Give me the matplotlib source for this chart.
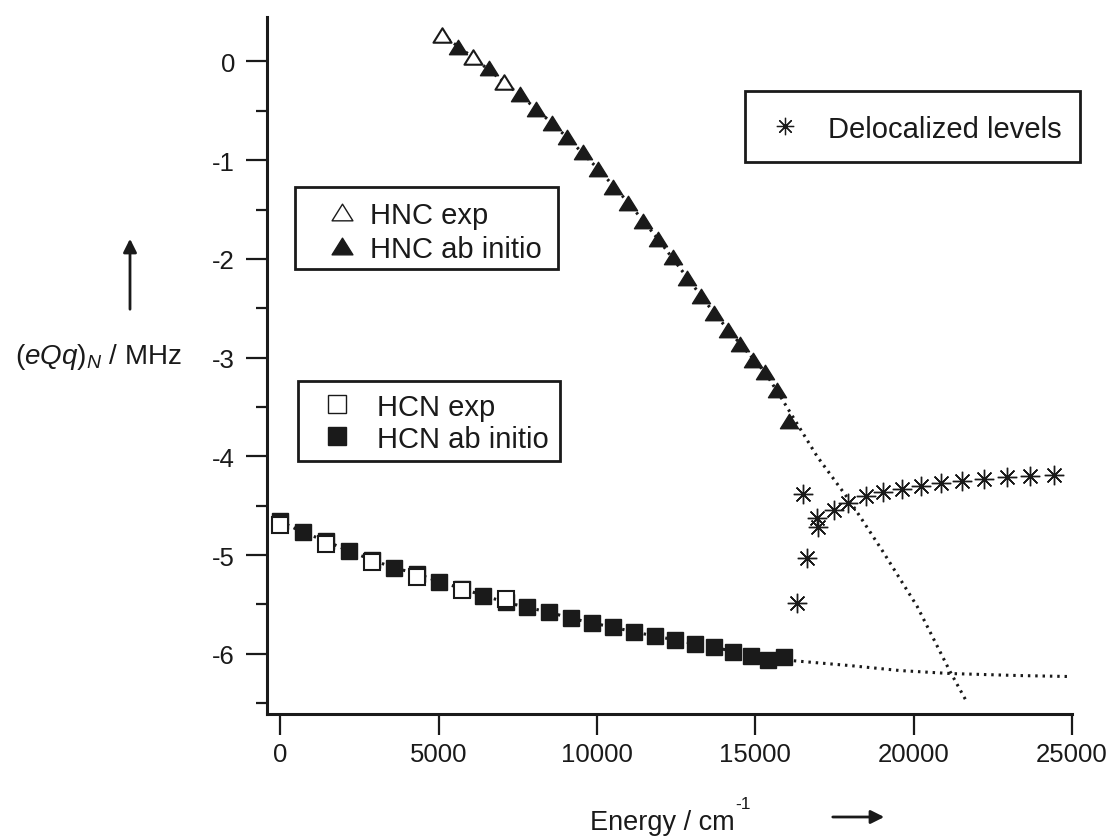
import numpy as np
import matplotlib
matplotlib.use('Agg')
import matplotlib.pyplot as plt
from matplotlib.lines import Line2D
from matplotlib.path import Path
from matplotlib.patches import Rectangle, FancyArrowPatch

plt.rcParams['font.family'] = ['Liberation Sans', 'DejaVu Sans']
plt.rcParams['axes.unicode_minus'] = False
plt.rcParams['mathtext.fontset'] = 'custom'
plt.rcParams['mathtext.rm'] = 'Liberation Sans'
plt.rcParams['mathtext.it'] = 'Liberation Sans:italic'

# HNC
hnc_exp_x = [5110, 6090, 7070]
hnc_exp_y = [0.27, 0.04, -0.21]
hnc_ab_x = [5620, 6600, 7580, 8080, 8590, 9060, 9570, 10040, 10510, 10990, 11460,
            11930, 12410, 12850, 13290, 13700, 14140, 14520, 14930, 15310, 15690, 16070]
hnc_ab_y = [0.15, -0.07, -0.33, -0.48, -0.62, -0.77, -0.92, -1.09, -1.27, -1.43, -1.62,
            -1.80, -1.98, -2.19, -2.38, -2.55, -2.72, -2.86, -3.02, -3.15, -3.33, -3.64]
# dotted fit curve for HNC
hnc_fit_x = [5110, 6090, 7070, 8080, 9060, 10040, 10990, 11930, 12850, 13700, 14520,
             15310, 15880, 16320, 16950, 18000, 19040, 20110, 21150, 21630]
hnc_fit_y = [0.27, 0.04, -0.21, -0.48, -0.77, -1.09, -1.43, -1.80, -2.19, -2.55, -2.86,
             -3.15, -3.44, -3.67, -4.00, -4.46, -4.97, -5.52, -6.18, -6.46]

# HCN
hcn_exp_x = [0, 1452, 2904, 4325, 5745, 7134]
hcn_exp_y = [-4.70, -4.89, -5.07, -5.22, -5.35, -5.45]
hcn_ab_x = [0, 726, 1452, 2178, 2904, 3600, 4325, 5020, 5745, 6410, 7134, 7800, 8490,
            9190, 9850, 10510, 11170, 11840, 12470, 13100, 13700, 14300, 14870, 15400, 15910]
hcn_ab_y = [-4.66, -4.77, -4.86, -4.96, -5.05, -5.13, -5.19, -5.27, -5.34, -5.41, -5.48,
            -5.53, -5.58, -5.64, -5.69, -5.73, -5.78, -5.82, -5.86, -5.90, -5.93, -5.98,
            -6.02, -6.06, -6.03]
hcn_ext_x = [16190, 18000, 19570, 21150, 23260, 24840]
hcn_ext_y = [-6.07, -6.12, -6.17, -6.20, -6.22, -6.23]

# delocalized levels
deloc_x = [16320, 16510, 16640, 16950, 16990, 17470, 17940, 18480, 19040, 19640,
           20240, 20870, 21530, 22230, 22950, 23680, 24440]
deloc_y = [-5.49, -4.38, -5.03, -4.62, -4.72, -4.54, -4.47, -4.40, -4.36, -4.33,
           -4.30, -4.27, -4.25, -4.23, -4.21, -4.20, -4.19]

W, H = 1114, 837
def px(x, y):
    return x / W, 1 - y / H

# slightly flattened triangle, like the original Igor marker
tri = Path([(-1, -0.8), (1, -0.8), (0, 0.8), (-1, -0.8)], closed=True)
star = (8, 2, 0)

fig = plt.figure(figsize=(W / 100, H / 100), dpi=100)
ax = fig.add_axes([267 / W, 1 - 715 / H, (1072 - 267) / W, (715 - 18) / H])

k = '#1a1a1a'
dot = (0, (0.8, 1.6))
ax.plot(hnc_fit_x, hnc_fit_y, color=k, lw=2.2, ls=dot, zorder=1)
ax.plot(hcn_ab_x + hcn_ext_x, hcn_ab_y + hcn_ext_y, color=k, lw=2.2, ls=dot, zorder=1)

ax.plot(hcn_ab_x, hcn_ab_y, 's', ms=12, mfc=k, mec=k, mew=1, ls='none', zorder=2)
ax.plot(hcn_exp_x, hcn_exp_y, 's', ms=12, mfc='white', mec=k, mew=1.5, ls='none', zorder=3)
ax.plot(hnc_ab_x, hnc_ab_y, marker=tri, ms=13, mfc=k, mec=k, mew=1, ls='none', zorder=2)
ax.plot(hnc_exp_x, hnc_exp_y, marker=tri, ms=13, mfc='white', mec=k, mew=1.5, ls='none',
        zorder=3)
ax.plot(deloc_x, deloc_y, marker=star, ms=14, mec=k, mew=1.0, ls='none', zorder=3)

ax.set_xlim(-420, 25000)
ax.set_ylim(-6.61, 0.45)
ax.set_xticks([0, 5000, 10000, 15000, 20000, 25000])
ax.set_yticks([0, -1, -2, -3, -4, -5, -6])
ax.set_yticks(np.arange(-6.5, 0.1, 0.5), minor=True)
for s in ['top', 'right']:
    ax.spines[s].set_visible(False)
for s in ['left', 'bottom']:
    ax.spines[s].set_linewidth(2.2)
    ax.spines[s].set_color(k)
ax.tick_params(axis='both', which='major', direction='out', length=15, width=1.6,
               labelsize=18.5, colors=k)
ax.tick_params(axis='y', which='minor', direction='out', length=8, width=1.6, colors=k)
ax.tick_params(axis='x', pad=5)
ax.tick_params(axis='y', pad=8)

# boxed keys
def key_box(x0, y0, x1, y1, mx, tx, rows):
    fig.add_artist(Rectangle(px(x0, y1), (x1 - x0) / W, (y1 - y0) / H,
                             transform=fig.transFigure, fill=False, ec=k, lw=2))
    for y, style, label in rows:
        fig.add_artist(Line2D([px(mx, y)[0]], [px(mx, y)[1]], transform=fig.transFigure,
                              ls='none', **style))
        fig.text(*px(tx, y), label, fontsize=21, ha='left', va='center_baseline', color=k)

key_box(745, 92, 1080, 163, 785, 828,
        [(127, dict(marker=star, ms=12.5, mec=k, mew=0.9), 'Delocalized levels')])
key_box(295, 188, 558, 270, 342, 370,
        [(213, dict(marker=tri, ms=15, mfc='white', mec=k, mew=1.0), 'HNC exp'),
         (247, dict(marker=tri, ms=15, mfc=k, mec=k), 'HNC ab initio')])
key_box(298, 382, 560, 462, 337, 377,
        [(405, dict(marker='s', ms=12.5, mfc='white', mec=k, mew=1.0), 'HCN exp'),
         (437, dict(marker='s', ms=12.5, mfc=k, mec=k), 'HCN ab initio')])

fig.text(*px(98, 357), r'$\mathit{(eQq)_N}$ / MHz', fontsize=20,
         ha='center', va='center', color=k)
fig.text(*px(662, 823), 'Energy / cm', fontsize=19.5, ha='center', va='center', color=k)
fig.text(*px(735, 805), '-1', fontsize=12.5, ha='left', va='center', color=k)
fig.add_artist(FancyArrowPatch(px(130, 313), px(130, 237), transform=fig.transFigure,
                               arrowstyle='-|>', mutation_scale=20, lw=2, color=k))
fig.add_artist(FancyArrowPatch(px(830, 818), px(887, 818), transform=fig.transFigure,
                               arrowstyle='-|>', mutation_scale=20, lw=2, color=k))

fig.savefig('out.png', dpi=100)
